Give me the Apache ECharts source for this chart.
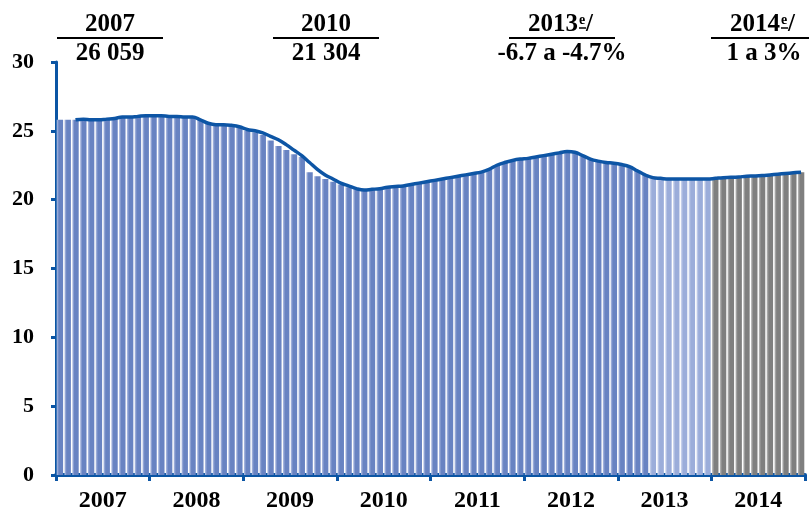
<!DOCTYPE html>
<html>
<head>
<meta charset="utf-8">
<script src="https://cdn.jsdelivr.net/npm/echarts@6/dist/echarts.min.js"></script>
<style>
  html, body { margin: 0; padding: 0; background: #fff; }
  #chart { width: 809px; height: 513px; }
</style>
</head>
<body>
<div id="chart"></div>
<script>
// años del eje x
var years = ['2007', '2008', '2009', '2010', '2011', '2012', '2013', '2014'];

// valores mensuales (barras)
var bars2007 = [25.8, 25.8, 25.8, 25.85, 25.8, 25.8, 25.85, 25.9, 26.0, 26.0, 26.05, 26.1];
var bars2008 = [26.1, 26.1, 26.05, 26.05, 26.0, 26.0, 25.8, 25.55, 25.45, 25.45, 25.4, 25.3];
var bars2009 = [25.0, 24.9, 24.7, 24.3, 23.9, 23.6, 23.3, 23.1, 22.0, 21.7, 21.5, 21.3];
var bars2010 = [21.1, 20.9, 20.75, 20.7, 20.75, 20.8, 20.9, 20.95, 21.0, 21.1, 21.2, 21.3];
var bars2011 = [21.4, 21.5, 21.6, 21.7, 21.8, 21.9, 22.0, 22.2, 22.5, 22.7, 22.85, 22.95];
var bars2012 = [23.0, 23.1, 23.2, 23.3, 23.4, 23.5, 23.45, 23.2, 22.95, 22.8, 22.7, 22.65];
var bars2013 = [22.55, 22.4, 22.1, 21.8, 21.6, 21.55, 21.5, 21.5, 21.5, 21.5, 21.5, 21.5];
var bars2014 = [21.55, 21.6, 21.62, 21.65, 21.7, 21.72, 21.75, 21.8, 21.85, 21.9, 21.95, 22.0];

// la tendencia se separa de las barras en 2009-2010
var trend2007 = [null, null, 25.8, 25.85, 25.8, 25.8, 25.85, 25.9, 26.0, 26.0, 26.05, 26.1];
var trend2009 = [25.1, 25.0, 24.85, 24.6, 24.35, 24.0, 23.6, 23.2, 22.7, 22.2, 21.8, 21.5];
var trend2010 = [21.2, 21.0, 20.8, 20.7, 20.75, 20.8, 20.9, 20.95, 21.0, 21.1, 21.2, 21.3];

// encabezados
var headYears = ['2007', '2010', '2013', '2014'];
var headValues = ['26 059', '21 304', '-6.7 a -4.7%', '1 a 3%'];
var headEstimated = [false, false, true, true];

var estimateFrom = 76; // may 2013
var forecastFrom = 84; // ene 2014

var barValues = [].concat(bars2007, bars2008, bars2009, bars2010, bars2011, bars2012, bars2013, bars2014);
var trendValues = [].concat(trend2007, bars2008, trend2009, trend2010, bars2011, bars2012, bars2013, bars2014);
var months = barValues.map(function (v, i) { return years[Math.floor(i / 12)] + '-' + (i % 12 + 1); });

function grad(a, b) {
    return { type: 'linear', x: 0, y: 0, x2: 1, y2: 0,
        colorStops: [{ offset: 0, color: a }, { offset: 0.35, color: b }, { offset: 1, color: b }] };
}
var blue = grad('#b4c1e4', '#6883c2');
var lightBlue = grad('#d3dbf0', '#9badda');
var gray = grad('#bdbdbd', '#7f7f7f');

var barData = barValues.map(function (v, i) {
    var c = i >= forecastFrom ? gray : (i >= estimateFrom ? lightBlue : blue);
    return { value: v, itemStyle: { color: c } };
});

var serif = '"Liberation Serif", "Times New Roman", serif';
var axisBlue = '#0b55a4';

// encabezados con línea
var headX = [110, 326, 562, 764];
var graphics = [];
headYears.forEach(function (y, k) {
    var cx = headX[k];
    var lineHalf = 53;
    graphics.push({ type: 'line', shape: { x1: cx - lineHalf, y1: 38, x2: cx + lineHalf, y2: 38 },
        style: { stroke: '#000', lineWidth: 2 } });
    if (headEstimated[k]) {
        var x0 = cx - 34;
        graphics.push({ type: 'text', x: x0, y: 25, style: { text: y, font: 'bold 25px ' + serif, fill: '#000', align: 'left', verticalAlign: 'middle' } });
        graphics.push({ type: 'text', x: x0 + 51, y: 20, style: { text: 'e', font: 'bold 14px ' + serif, fill: '#000', align: 'left', verticalAlign: 'middle' } });
        graphics.push({ type: 'line', shape: { x1: x0 + 51, y1: 28, x2: x0 + 58, y2: 28 }, style: { stroke: '#000', lineWidth: 1.5 } });
        graphics.push({ type: 'text', x: x0 + 58, y: 25, style: { text: '/', font: 'bold 25px ' + serif, fill: '#000', align: 'left', verticalAlign: 'middle' } });
    } else {
        graphics.push({ type: 'text', x: cx, y: 25, style: { text: y, font: 'bold 25px ' + serif, fill: '#000', align: 'center', verticalAlign: 'middle' } });
    }
    graphics.push({ type: 'text', x: cx, y: 54, style: { text: headValues[k], font: 'bold 25px ' + serif, fill: '#000', align: 'center', verticalAlign: 'middle' } });
});

var chart = echarts.init(document.getElementById('chart'));
chart.setOption({
    animation: false,
    backgroundColor: '#fff',
    grid: { left: 56, right: 4, top: 62, bottom: 32 },
    graphic: graphics,
    xAxis: [{
        type: 'category',
        data: months,
        show: false
    }, {
        type: 'category',
        data: years,
        position: 'bottom',
        axisLine: { show: true, lineStyle: { color: axisBlue, width: 4 } },
        axisTick: { show: true, length: 6, alignWithLabel: false, lineStyle: { color: axisBlue, width: 3 } },
        axisLabel: { color: '#000', fontFamily: serif, fontWeight: 'bold', fontSize: 24, margin: 14 },
        splitLine: { show: false }
    }],
    yAxis: {
        type: 'value',
        min: 0, max: 30, interval: 5,
        axisLine: { show: true, lineStyle: { color: axisBlue, width: 3 } },
        axisTick: { show: true, length: 5, lineStyle: { color: axisBlue, width: 3 } },
        axisLabel: { color: '#000', fontFamily: serif, fontWeight: 'bold', fontSize: 22, margin: 22 },
        splitLine: { show: false }
    },
    series: [{
        type: 'bar',
        xAxisIndex: 0,
        data: barData,
        barCategoryGap: '18%',
        silent: true
    }, {
        type: 'line',
        xAxisIndex: 0,
        data: trendValues,
        smooth: 0.4,
        showSymbol: false,
        lineStyle: { color: '#0d55a5', width: 3.5 },
        z: 3,
        silent: true
    }]
});
</script>
</body>
</html>
